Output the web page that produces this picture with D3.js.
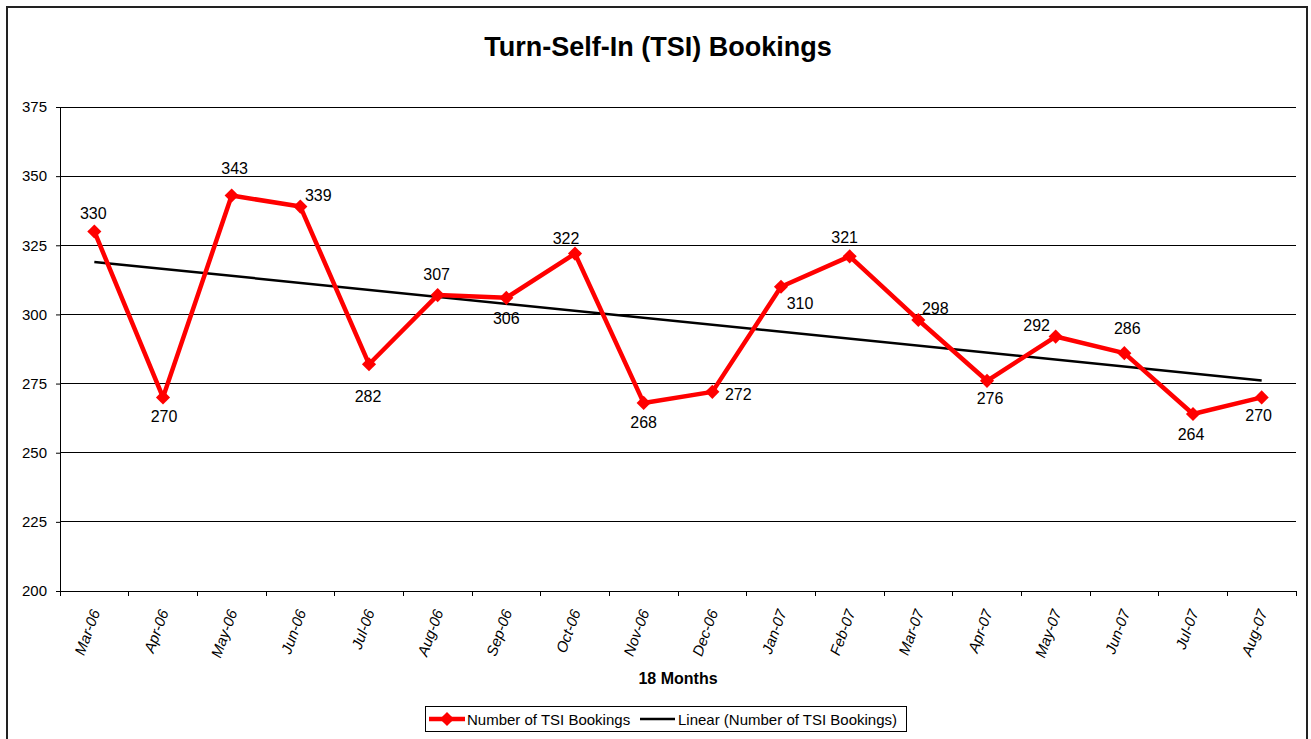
<!DOCTYPE html>
<html>
<head>
<meta charset="utf-8">
<script src="https://cdn.jsdelivr.net/npm/d3@7"></script>
<style>
  body { margin: 0; background: #fff; }
  svg { display: block; font-family: "Liberation Sans", Arial, sans-serif; }
</style>
</head>
<body>
<svg id="chart" width="1311" height="739"></svg>
<script>
// chart data
var months = ['Mar-06', 'Apr-06', 'May-06', 'Jun-06', 'Jul-06', 'Aug-06', 'Sep-06', 'Oct-06', 'Nov-06',
              'Dec-06', 'Jan-07', 'Feb-07', 'Mar-07', 'Apr-07', 'May-07', 'Jun-07', 'Jul-07', 'Aug-07'];
var bookings = [330, 270, 343, 339, 282, 307, 306, 322, 268, 272, 310, 321, 298, 276, 292, 286, 264, 270];
var yTicks = [200, 225, 250, 275, 300, 325, 350, 375];

// where each data label sits relative to its point (dx, dy to baseline)
var labelOffsets = [[-1, -12], [1, 25], [3, -22], [18, -6], [-1, 38], [-1, -15], [0, 26], [-9, -10], [0, 25],
                    [26, 8], [19, 22], [-5, -13], [17, -6], [3, 23], [-19, -6], [3, -19], [-2, 26], [-3, 24]];

var plot = {left: 60, right: 1296, top: 107, bottom: 591};

var svg = d3.select('#chart');

// outer frame
svg.append('rect')
   .attr('x', 7).attr('y', 7)
   .attr('width', 1300).attr('height', 745)
   .attr('fill', 'none').attr('stroke', '#222').attr('stroke-width', 2);

var x = d3.scaleBand().domain(months).range([plot.left, plot.right]);
var y = d3.scaleLinear().domain([200, 375]).range([plot.bottom, plot.top]);
var cx = function(i) { return x(months[i]) + x.bandwidth() / 2; };

// gridlines
svg.append('g').selectAll('line')
   .data(yTicks.slice(1))
   .enter().append('line')
    .attr('x1', plot.left).attr('x2', plot.right)
    .attr('y1', function(d) { return y(d); })
    .attr('y2', function(d) { return y(d); })
    .attr('stroke', '#000').attr('stroke-width', 1)
    .attr('shape-rendering', 'crispEdges');

// y axis
var yAxis = svg.append('g')
   .attr('transform', 'translate(' + plot.left + ',0)')
   .call(d3.axisLeft(y).tickValues(yTicks).tickSize(4).tickPadding(9));
yAxis.select('.domain').attr('stroke', '#000').attr('shape-rendering', 'crispEdges');
yAxis.selectAll('.tick line').attr('stroke', '#000');
yAxis.selectAll('text').attr('font-size', 15).attr('fill', '#000')
     .attr('font-family', '"Liberation Sans", Arial, sans-serif');

// x axis: ticks sit on the category boundaries
var xAxisG = svg.append('g').attr('transform', 'translate(0,' + plot.bottom + ')');
xAxisG.append('line')
      .attr('x1', plot.left).attr('x2', plot.right)
      .attr('stroke', '#000').attr('shape-rendering', 'crispEdges');
xAxisG.selectAll('.tk')
      .data(months.concat(['end']))
      .enter().append('line')
       .attr('x1', function(d, i) { return plot.left + i * x.bandwidth(); })
       .attr('x2', function(d, i) { return plot.left + i * x.bandwidth(); })
       .attr('y1', 0).attr('y2', 5)
       .attr('stroke', '#000').attr('shape-rendering', 'crispEdges');
xAxisG.selectAll('text')
      .data(months)
      .enter().append('text')
       .attr('transform', function(d, i) { return 'translate(' + (cx(i) + 1) + ',19) rotate(-70)'; })
       .attr('text-anchor', 'end')
       .attr('dy', '0.35em')
       .attr('font-size', 15)
       .attr('font-style', 'italic')
       .text(function(d) { return d; });

// linear trend (least squares over month index)
var n = bookings.length;
var mx = d3.mean(bookings, function(d, i) { return i; });
var my = d3.mean(bookings);
var sxy = d3.sum(bookings, function(d, i) { return (i - mx) * (d - my); });
var sxx = d3.sum(bookings, function(d, i) { return (i - mx) * (i - mx); });
var slope = sxy / sxx, icpt = my - slope * mx;

svg.append('line')
   .attr('x1', cx(0)).attr('y1', y(icpt))
   .attr('x2', cx(n - 1)).attr('y2', y(icpt + slope * (n - 1)))
   .attr('stroke', '#000').attr('stroke-width', 2.5);

// bookings line
var line = d3.line()
    .x(function(d, i) { return cx(i); })
    .y(function(d) { return y(d); });

svg.append('path')
   .datum(bookings)
   .attr('d', line)
   .attr('fill', 'none')
   .attr('stroke', '#ff0000')
   .attr('stroke-width', 4.5)
   .attr('stroke-linejoin', 'round');

var diamond = d3.symbol().type(d3.symbolSquare).size(100);
svg.append('g').selectAll('path')
   .data(bookings)
   .enter().append('path')
    .attr('d', diamond)
    .attr('transform', function(d, i) { return 'translate(' + cx(i) + ',' + y(d) + ') rotate(45)'; })
    .attr('fill', '#ff0000');

// data labels
svg.append('g').selectAll('text')
   .data(bookings)
   .enter().append('text')
    .attr('x', function(d, i) { return cx(i) + labelOffsets[i][0]; })
    .attr('y', function(d, i) { return y(d) + labelOffsets[i][1]; })
    .attr('text-anchor', 'middle')
    .attr('font-size', 16)
    .text(function(d) { return d; });

// titles
svg.append('text')
   .attr('x', 658).attr('y', 56)
   .attr('text-anchor', 'middle')
   .attr('font-size', 27).attr('font-weight', 'bold')
   .text('Turn-Self-In (TSI) Bookings');

svg.append('text')
   .attr('x', 678).attr('y', 684)
   .attr('text-anchor', 'middle')
   .attr('font-size', 16).attr('font-weight', 'bold')
   .text('18 Months');

// legend
var lg = svg.append('g');
lg.append('rect')
  .attr('x', 425.5).attr('y', 706.5).attr('width', 481).attr('height', 25)
  .attr('fill', '#fff').attr('stroke', '#000');
lg.append('line')
  .attr('x1', 429).attr('x2', 465).attr('y1', 719).attr('y2', 719)
  .attr('stroke', '#ff0000').attr('stroke-width', 4.5);
lg.append('path')
  .attr('d', diamond)
  .attr('transform', 'translate(447,719) rotate(45)')
  .attr('fill', '#ff0000');
lg.append('text')
  .attr('x', 467).attr('y', 724.5)
  .attr('font-size', 15)
  .text('Number of TSI Bookings');
lg.append('line')
  .attr('x1', 640).attr('x2', 675).attr('y1', 719).attr('y2', 719)
  .attr('stroke', '#000').attr('stroke-width', 2.5);
lg.append('text')
  .attr('x', 678).attr('y', 724.5)
  .attr('font-size', 15)
  .text('Linear (Number of TSI Bookings)');
</script>
</body>
</html>
